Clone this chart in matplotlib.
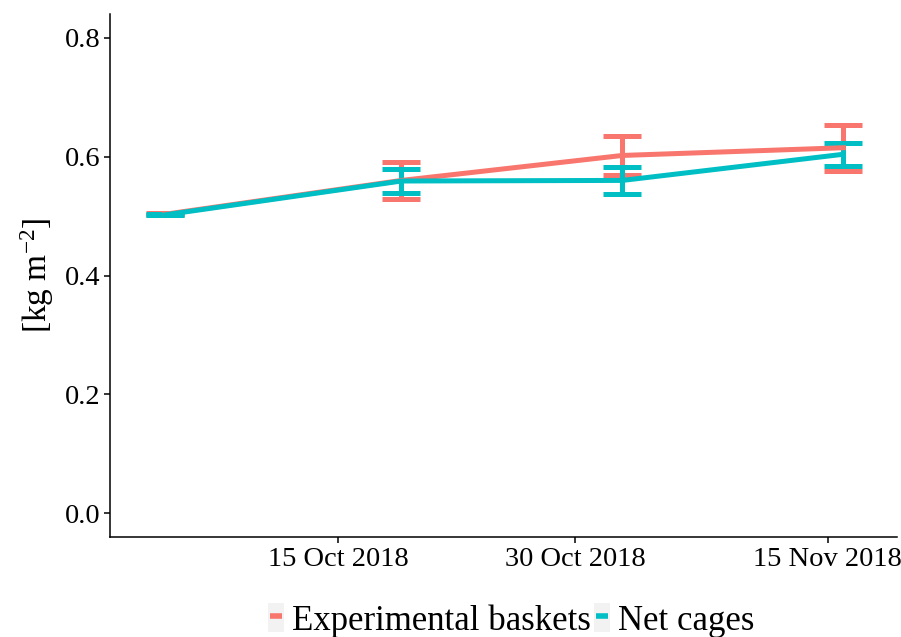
#!/usr/bin/env python3
"""Biomass per area over time, experimental baskets vs. net cages (mean +/- SE)."""

from datetime import datetime, timedelta

import matplotlib
matplotlib.use("Agg")
import matplotlib.dates as mdates
import matplotlib.pyplot as plt
from matplotlib.legend_handler import HandlerTuple
from matplotlib.lines import Line2D
from matplotlib.patches import Rectangle

# ---------------------------------------------------------------------------
# Data
# ---------------------------------------------------------------------------
DATES = ["2018-10-04", "2018-10-19", "2018-11-02", "2018-11-16"]
SERIES = ["Experimental baskets", "Net cages"]
BASKET_MEAN = [0.503, 0.560, 0.602, 0.615]
BASKET_SE = [0.002, 0.031, 0.033, 0.039]
CAGE_MEAN = [0.502, 0.559, 0.560, 0.604]
CAGE_SE = [0.001, 0.020, 0.023, 0.019]
TICK_DATES = ["2018-10-15", "2018-10-30", "2018-11-15"]

# ---------------------------------------------------------------------------
# Style
# ---------------------------------------------------------------------------
RED = "#F8766D"
TEAL = "#00BFC4"
KEY_BG = "#F2F2F2"

plt.rcParams.update({
    "font.family": ["Liberation Serif", "DejaVu Serif"],
    "mathtext.fontset": "custom",
    "mathtext.rm": "Liberation Serif",
    "mathtext.it": "Liberation Serif:italic",
    "axes.linewidth": 1.1,
})


def main():
    x = [datetime.strptime(d, "%Y-%m-%d") for d in DATES]

    fig = plt.figure(figsize=(9.01, 6.37), dpi=100)
    ax = fig.add_axes([0.122, 0.157, 0.8736, 0.821])

    handles = []
    for mean, se, col in [(BASKET_MEAN, BASKET_SE, RED), (CAGE_MEAN, CAGE_SE, TEAL)]:
        ax.errorbar(x, mean, yerr=se, color=col, linewidth=3.6,
                    elinewidth=3.6, capsize=14, capthick=3.6, zorder=3)
        # legend key: grey box with a short coloured dash
        handles.append((Rectangle((0, 0), 1, 1, facecolor=KEY_BG, edgecolor="none"),
                        Line2D([], [], color=col, linestyle="none", marker="_",
                               markersize=9, markeredgewidth=4)))

    ax.set_ylim(-0.04, 0.84)
    ax.set_yticks([0.0, 0.2, 0.4, 0.6, 0.8])
    ax.set_yticklabels(["0.0", "0.2", "0.4", "0.6", "0.8"])
    ax.set_xlim(datetime(2018, 9, 30) + timedelta(days=0.53),
                datetime(2018, 11, 19) + timedelta(days=0.4))
    ax.set_xticks([datetime.strptime(d, "%Y-%m-%d") for d in TICK_DATES])
    ax.xaxis.set_major_formatter(mdates.DateFormatter("%-d %b %Y"))

    ax.tick_params(axis="both", labelsize=20.5, length=4, width=1.1,
                   colors="black", pad=3)
    ax.set_ylabel(r"[kg m$^{-2}$]", fontsize=24, labelpad=6)

    for spine in ("top", "right"):
        ax.spines[spine].set_visible(False)

    fig.legend(handles, SERIES, handler_map={tuple: HandlerTuple(ndivide=1, pad=0)},
               loc="center", bbox_to_anchor=(0.567, 0.026), ncol=2, frameon=False,
               fontsize=25, handlelength=0.46, handleheight=0.9,
               handletextpad=0.23, columnspacing=0.1, borderpad=0.1)

    fig.savefig("out.png", dpi=100, facecolor="white")
    plt.close(fig)


if __name__ == "__main__":
    main()
